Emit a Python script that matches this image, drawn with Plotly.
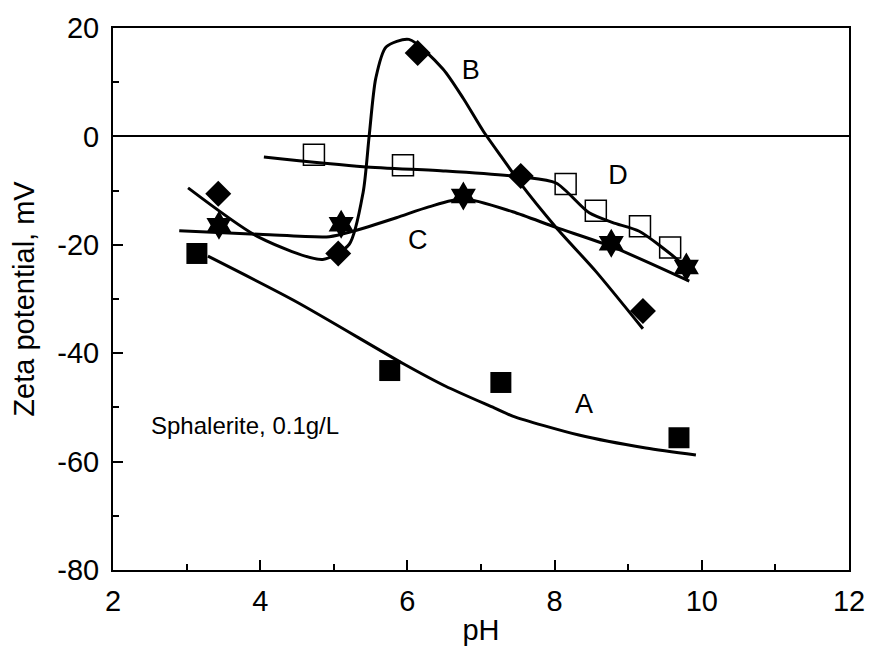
import plotly.graph_objects as go

# Measured points
a_x = [3.14, 5.76, 7.27, 9.69]
a_y = [-21.6, -43.2, -45.4, -55.6]
b_x = [3.43, 5.06, 6.14, 7.54, 9.20]
b_y = [-10.6, -21.6, 15.4, -7.3, -32.2]
c_x = [3.44, 5.10, 6.76, 8.77, 9.79]
c_y = [-16.4, -16.2, -11.0, -19.7, -24.1]
d_x = [4.73, 5.94, 8.15, 8.56, 9.16, 9.57]
d_y = [-3.4, -5.3, -8.8, -13.7, -16.6, -20.5]

# Fitted curves
fa_x = [3.29, 4.49, 5.94, 6.52, 7.18, 7.43, 8.33, 9.24, 9.92]
fa_y = [-22.1, -30.5, -41.9, -46.1, -50.1, -51.6, -55.1, -57.5, -58.8]
fb_x = [3.02, 3.98, 4.85, 5.21, 5.40, 5.48, 5.57, 5.71, 6.02, 6.48, 6.76, 7.03, 7.30, 7.52, 8.02, 8.56, 9.20]
fb_y = [-9.5, -18.6, -22.7, -19.9, -10.2, 0.0, 10.7, 16.5, 17.9, 12.5, 7.0, 1.0, -4.2, -8.4, -16.8, -24.9, -35.5]
fc_x = [2.90, 4.04, 4.94, 5.26, 5.85, 6.29, 6.76, 7.43, 8.02, 8.77, 9.83]
fc_y = [-17.4, -18.1, -18.5, -17.5, -15.0, -13.0, -11.5, -13.9, -16.8, -20.3, -26.7]
fd_x = [4.05, 5.40, 6.52, 7.57, 8.02, 8.47, 8.79, 9.15, 9.69, 9.79]
fd_y = [-3.8, -5.6, -6.4, -7.5, -8.6, -14.1, -15.9, -17.5, -23.0, -24.5]

labels = ["A", "B", "C", "D"]
label_x = [8.40, 6.86, 6.14, 8.86]
label_y = [-49.8, 11.8, -19.6, -7.5]

x_ticks = [2, 4, 6, 8, 10, 12]
y_ticks = [20, 0, -20, -40, -60, -80]
y_ticktext = ["20", "0", "-20", "-40", "-60", "-80"]

FONT = "Liberation Sans"

fig = go.Figure()
line = dict(color="black", width=3, shape="spline", smoothing=0.7)
for fx, fy in [(fa_x, fa_y), (fb_x, fb_y), (fc_x, fc_y), (fd_x, fd_y)]:
    fig.add_trace(go.Scatter(x=fx, y=fy, mode="lines", line=line, showlegend=False, hoverinfo="skip"))

fig.add_trace(go.Scatter(x=a_x, y=a_y, mode="markers",
                         marker=dict(symbol="square", size=21, color="black"), showlegend=False))
fig.add_trace(go.Scatter(x=b_x, y=b_y, mode="markers",
                         marker=dict(symbol="diamond", size=20, color="black"), showlegend=False))
fig.add_trace(go.Scatter(x=c_x, y=c_y, mode="markers",
                         marker=dict(symbol="hexagram", size=22, color="black"), showlegend=False))
fig.add_trace(go.Scatter(x=d_x, y=d_y, mode="markers",
                         marker=dict(symbol="square-open", size=21, color="black",
                                     line=dict(width=1.5, color="black")), showlegend=False))

fig.add_trace(go.Scatter(x=label_x, y=label_y, mode="text", text=labels,
                         textfont=dict(family=FONT, size=27, color="black"),
                         showlegend=False, hoverinfo="skip"))

fig.add_annotation(x=2.49, y=-53.3, xref="x", yref="y", text="Sphalerite, 0.1g/L",
                   showarrow=False, xanchor="left",
                   font=dict(family=FONT, size=24, color="black"))

fig.update_layout(
    width=877, height=653,
    margin=dict(l=113, r=22, t=18, b=83),
    paper_bgcolor="white", plot_bgcolor="white",
    font=dict(family=FONT, color="black"),
)
fig.update_xaxes(
    range=[2, 12], tickvals=x_ticks, showgrid=False, zeroline=False,
    showline=True, linecolor="black", linewidth=2, mirror=True,
    ticks="inside", ticklen=10, tickwidth=1.5, tickcolor="black",
    minor=dict(ticks="inside", ticklen=6, dtick=1, tickcolor="black", tickwidth=1.5),
    tickfont=dict(size=29, color="black"), ticklabelstandoff=4,
    title=dict(text="pH", font=dict(size=29, color="black"), standoff=4),
)
fig.update_yaxes(
    range=[-80, 20], tickvals=y_ticks, ticktext=y_ticktext, showgrid=False,
    zeroline=True, zerolinecolor="black", zerolinewidth=2,
    showline=True, linecolor="black", linewidth=2, mirror=True,
    ticks="inside", ticklen=10, tickwidth=1.5, tickcolor="black",
    minor=dict(ticks="inside", ticklen=6, dtick=10, tickcolor="black", tickwidth=1.5),
    tickfont=dict(size=29, color="black"), ticklabelstandoff=6,
    title=dict(text="Zeta potential, mV", font=dict(size=29, color="black"), standoff=14),
)

fig.write_html("out.html")
